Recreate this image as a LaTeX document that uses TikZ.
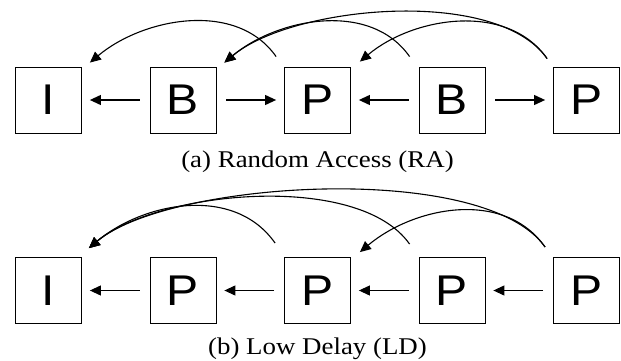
\documentclass[tikz,border=0pt]{standalone}
\usepackage{fontspec,graphicx}
\setmainfont{Liberation Serif}
\setsansfont{Liberation Sans}
\usetikzlibrary{arrows.meta,calc}
\newcommand{\wide}[1]{\scalebox{1.12}[1]{#1}}

\begin{document}
\begin{tikzpicture}[x=1pt,y=1pt,
	frame/.style={draw, line width=0.8pt, minimum size=66pt, inner sep=0pt, font=\sffamily\fontsize{43}{46}\selectfont},
	pred/.style={-{Triangle[length=11pt,width=10pt]}, line width=1.1pt, shorten <=10pt, shorten >=8pt},
	arc/.style={-{Triangle[length=11pt,width=10pt]}, line width=1.1pt},
	subcap/.style={anchor=base, font=\fontsize{24}{28}\selectfont}]
	\useasboundingbox (0,0) rectangle (621,360);

	% (a) random access
	\draw (48.5,260) node[frame] (aI) {\wide{I}};
	\draw (183,260) node[frame] (aB1) {\wide{B}};
	\draw (317.5,260) node[frame] (aP1) {\wide{P}};
	\draw (452,260) node[frame] (aB2) {\wide{B}};
	\draw (586.5,260) node[frame] (aP2) {\wide{P}};
	\node[subcap] (capa) at (317.5,193) {\wide{(a) Random Access (RA)}};

	\path[pred] (aB1) edge (aI) (aB1) edge (aP1) (aB2) edge (aP1) (aB2) edge (aP2);
	\draw[arc] ($(aP1.north west)+(-8,10)$) to[out=125,in=40,looseness=0.95] ($(aI.north east)+(8,4)$);
	\draw[arc] ($(aB2.north west)+(-9,10)$) to[out=125,in=40,looseness=0.95] ($(aB1.north east)+(8,4)$);
	\draw[arc] ($(aP2.north west)+(-6,8)$) to[out=125,in=40,looseness=0.7] ($(aB1.north east)+(8,4)$);
	\draw[arc] ($(aP2.north west)+(-6,8)$) to[out=125,in=40,looseness=0.95] ($(aP1.north east)+(9,5)$);

	% (b) low delay
	\draw (48.5,69.5) node[frame] (bI) {\wide{I}};
	\draw (183,69.5) node[frame] (bP1) {\wide{P}};
	\draw (317.5,69.5) node[frame] (bP2) {\wide{P}};
	\draw (452,69.5) node[frame] (bP3) {\wide{P}};
	\draw (586.5,69.5) node[frame] (bP4) {\wide{P}};
	\node[subcap] (capb) at (317.5,6) {\wide{(b) Low Delay (LD)}};

	\path[pred] (bP1) edge (bI) (bP2) edge (bP1) (bP3) edge (bP2) (bP4) edge (bP3);
	\draw[arc] ($(bP2.north west)+(-9,14)$) to[out=125,in=40,looseness=0.98] ($(bI.north east)+(7,9)$);
	\draw[arc] ($(bP3.north west)+(-9,13)$) to[out=125,in=40,looseness=0.71] ($(bI.north east)+(7,9)$);
	\draw[arc] ($(bP4.north west)+(-8,10)$) to[out=125,in=40,looseness=0.59] ($(bI.north east)+(7,9)$);
	\draw[arc] ($(bP4.north west)+(-8,10)$) to[out=125,in=40,looseness=0.98] ($(bP2.north east)+(9,5)$);
\end{tikzpicture}
\end{document}
